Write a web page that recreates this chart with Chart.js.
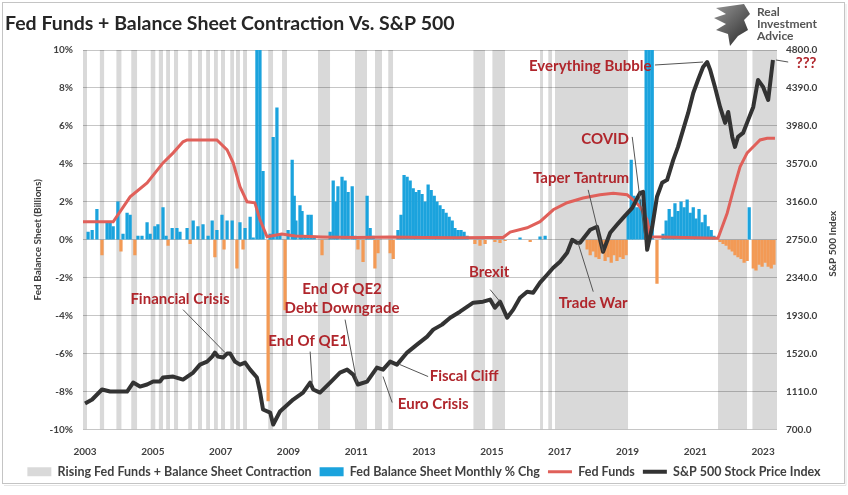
<!DOCTYPE html>
<html>
<head>
<meta charset="utf-8">
<script src="https://cdn.jsdelivr.net/npm/chart.js@4.4.0/dist/chart.umd.min.js"></script>
<style>
  html, body { margin: 0; padding: 0; background: #fff; }
  #wrap { width: 848px; height: 495px; }
</style>
</head>
<body>
<div id="wrap"><canvas id="chart" width="848" height="495"></canvas></div>
<script>
// axis ticks
const yearTicks = [2003, 2005, 2007, 2009, 2011, 2013, 2015, 2017, 2019, 2021, 2023];
const pctTicks = [-10, -8, -6, -4, -2, 0, 2, 4, 6, 8, 10];
const spxTicks = [700, 1110, 1520, 1930, 2340, 2750, 3160, 3570, 3980, 4390, 4800];

// shaded periods: rising fed funds + balance sheet contraction (start / end, decimal years)
const bandStart = [2002.94, 2003.43, 2003.92, 2004.36, 2004.93, 2005.17, 2005.39, 2005.62, 2006.04, 2006.33,
  2006.57, 2006.80, 2007.01, 2007.28, 2007.45, 2007.66, 2008.40, 2008.81, 2009.87, 2010.96, 2011.55, 2011.94,
  2014.45, 2015.01, 2016.42, 2016.66, 2016.86, 2021.67, 2022.68];
const bandEnd = [2003.06, 2003.57, 2004.08, 2004.54, 2005.08, 2005.30, 2005.51, 2005.75, 2006.16, 2006.45,
  2006.69, 2006.92, 2007.13, 2007.40, 2007.57, 2007.78, 2008.55, 2008.96, 2010.23, 2011.32, 2011.76, 2012.09,
  2014.80, 2015.39, 2016.51, 2016.78, 2019.02, 2022.53, 2023.41];

// Fed balance sheet monthly % change
const bsYears = [2003.09, 2003.21, 2003.35, 2003.50, 2003.65, 2003.74, 2003.83, 2003.97, 2004.06, 2004.12,
  2004.24, 2004.33, 2004.47, 2004.56, 2004.68, 2004.83, 2004.92, 2005.06, 2005.15, 2005.30,
  2005.39, 2005.45, 2005.57, 2005.71, 2005.80, 2006.01, 2006.10, 2006.19, 2006.33, 2006.48,
  2006.63, 2006.75, 2006.83, 2006.89, 2007.04, 2007.10, 2007.19, 2007.34, 2007.48, 2007.57,
  2007.66, 2007.72, 2007.87, 2007.96, 2008.07, 2008.16, 2008.25, 2008.40, 2008.46, 2008.55,
  2008.66, 2008.75, 2008.90, 2008.99, 2009.11, 2009.17, 2009.22, 2009.34, 2009.40, 2009.49,
  2009.58, 2009.67, 2009.76, 2009.99, 2010.23, 2010.32, 2010.40, 2010.46, 2010.58, 2010.67,
  2010.76, 2010.88, 2010.96, 2011.05, 2011.20, 2011.32, 2011.41, 2011.50, 2011.55, 2011.64,
  2012.00, 2012.09, 2012.23, 2012.32, 2012.41, 2012.50, 2012.59, 2012.68, 2012.76, 2012.85,
  2012.94, 2013.03, 2013.12, 2013.21, 2013.30, 2013.38, 2013.47, 2013.56, 2013.65, 2013.74,
  2013.83, 2013.91, 2014.00, 2014.09, 2014.18, 2014.27, 2014.50, 2014.65, 2014.80, 2015.09,
  2015.24, 2015.39, 2015.83, 2016.13, 2016.42, 2016.57, 2017.81, 2017.90, 2017.99, 2018.07,
  2018.16, 2018.25, 2018.34, 2018.43, 2018.52, 2018.60, 2018.69, 2018.78, 2018.87, 2018.96,
  2019.02, 2019.11, 2019.19, 2019.28, 2019.37, 2019.46, 2019.55, 2019.64, 2019.73, 2019.87,
  2020.05, 2020.14, 2020.23, 2020.32, 2020.40, 2020.49, 2020.58, 2020.67, 2020.76, 2020.85,
  2020.94, 2021.02, 2021.11, 2021.20, 2021.29, 2021.38, 2021.47, 2021.55, 2021.73, 2021.82,
  2021.91, 2022.00, 2022.09, 2022.17, 2022.26, 2022.35, 2022.44, 2022.53, 2022.59, 2022.71,
  2022.79, 2022.88, 2022.97, 2023.06, 2023.15, 2023.24, 2023.32];
const bsChg = [0.4, 0.5, 1.6, -0.8, 0.9, 0.9, 0.7, 2.0, -0.6, 0.3,
  1.4, 1.3, -0.8, 0.2, 0.2, 0.9, 0.3, 0.7, 0.8, 1.7,
  0.2, -0.3, 0.6, 0.6, 0.4, 0.6, -0.2, 1.0, 0.7, 0.8,
  0.2, 1.0, -0.9, 0.5, 1.3, -0.5, 1.0, 1.0, -1.5, 0.9,
  -0.5, 0.6, 1.2, 0.1, 12, 12, 3.6, -8.5, 0.3, 5.4,
  6.95, 0.3, -3.7, 0.5, 4.2, 2.3, 1.0, 1.8, 1.5, 0.2,
  1.3, 1.3, 0.2, -0.8, 0.4, 3.1, 2.0, 2.8, 3.3, 3.1,
  2.5, 2.8, 0.2, -0.5, -1.15, 2.3, 0.6, 0.2, -1.5, -0.7,
  -0.7, -1.0, 0.5, 1.3, 3.4, 3.3, 3.1, 2.7, 2.5, 2.6,
  2.4, 2.0, 2.9, 2.6, 2.3, 2.0, 1.8, 1.6, 1.4, 1.2,
  1.0, 0.6, 0.5, 0.5, 0.4, 0.2, -0.2, -0.3, -0.2, -0.1,
  -0.15, -0.05, 0.1, -0.1, 0.15, 0.2, -0.5, -0.8, -0.6, -0.9,
  -1.0, -0.7, -1.1, -0.9, -1.2, -0.8, -1.1, -0.9, -1.0, -0.8,
  1.4, 4.2, 2.3, 1.7, 2.1, 1.5, 12, 12, 12, -2.3,
  0.3, 1.0, 1.6, 1.2, 1.9, 1.5, 2.0, 1.7, 2.1, 1.4,
  1.7, 1.1, 1.6, 0.9, 1.3, 0.7, 0.5, 0.2, -0.1, -0.2,
  -0.3, -0.5, -0.6, -0.8, -0.9, -1.0, -1.2, -1.1, 1.7, -1.5,
  -1.6, -1.3, -1.4, -1.2, -1.4, -1.5, -1.3];

// Fed funds rate, %
const ffYears = [2002.94, 2003.83, 2004.33, 2004.83, 2005.30, 2005.60, 2005.89, 2006.01, 2006.89, 2007.19,
  2007.37, 2007.57, 2007.78, 2008.01, 2008.16, 2008.37, 2008.80, 2009.20, 2010.00, 2011.00,
  2012.00, 2013.00, 2014.00, 2015.00, 2015.33, 2015.54, 2016.04, 2016.42, 2016.81, 2017.22,
  2017.69, 2018.19, 2018.58, 2018.99, 2019.17, 2019.37, 2019.58, 2019.67, 2021.67, 2021.94,
  2022.12, 2022.32, 2022.53, 2022.71, 2022.91, 2023.12, 2023.35];
const ffRate = [0.95, 0.95, 2.26, 3.0, 4.05, 4.58, 5.16, 5.26, 5.26, 4.74,
  4.05, 2.8, 2.0, 1.95, 1.05, 0.16, 0.3, 0.2, 0.15, 0.12,
  0.15, 0.12, 0.1, 0.12, 0.12, 0.4, 0.63, 0.95, 1.58, 1.95,
  2.2, 2.37, 2.45, 2.37, 2.1, 1.74, 1.05, 0.16, 0.08, 1.4,
  2.6, 3.84, 4.58, 4.9, 5.26, 5.35, 5.35];

// S&P 500 index level
const spxYears = [2003.00, 2003.21, 2003.50, 2003.74, 2003.94, 2004.24, 2004.42, 2004.62, 2004.83, 2005.01,
  2005.21, 2005.30, 2005.60, 2005.89, 2006.19, 2006.39, 2006.60, 2006.75, 2006.83, 2006.92,
  2007.07, 2007.19, 2007.28, 2007.42, 2007.57, 2007.72, 2007.87, 2008.07, 2008.16, 2008.25,
  2008.46, 2008.55, 2008.75, 2009.14, 2009.43, 2009.64, 2009.73, 2009.93, 2010.23, 2010.52,
  2010.73, 2010.91, 2011.05, 2011.32, 2011.61, 2011.79, 2012.00, 2012.20, 2012.50, 2012.79,
  2013.09, 2013.27, 2013.53, 2013.77, 2014.06, 2014.45, 2014.74, 2014.95, 2015.09, 2015.24,
  2015.45, 2015.63, 2015.83, 2016.04, 2016.22, 2016.42, 2016.63, 2016.81, 2017.01, 2017.22,
  2017.37, 2017.51, 2017.60, 2017.90, 2018.10, 2018.28, 2018.49, 2018.69, 2018.87, 2019.14,
  2019.37, 2019.46, 2019.58, 2019.73, 2019.87, 2020.02, 2020.17, 2020.35, 2020.49, 2020.64,
  2020.79, 2020.94, 2021.08, 2021.23, 2021.35, 2021.44, 2021.58, 2021.73, 2021.88, 2021.97,
  2022.09, 2022.17, 2022.26, 2022.41, 2022.56, 2022.71, 2022.85, 2023.00, 2023.15, 2023.29];
const spxLevel = [981, 1024, 1132, 1110, 1110, 1110, 1207, 1164, 1186, 1218,
  1218, 1261, 1272, 1239, 1315, 1401, 1434, 1488, 1531, 1488,
  1477, 1520, 1520, 1434, 1401, 1423, 1347, 1261, 1110, 916,
  883, 754, 894, 1024, 1099, 1207, 1132, 1099, 1207, 1315,
  1347, 1293, 1186, 1218, 1369, 1347, 1434, 1401, 1531, 1617,
  1703, 1779, 1833, 1908, 1973, 2070, 2081, 2103, 2016, 2081,
  1908, 1995, 2124, 2189, 2178, 2286, 2372, 2448, 2513, 2610,
  2750, 2718, 2718, 2858, 2890, 2620, 2825, 2912, 2987, 3095,
  3257, 3268, 2642, 2890, 3214, 3365, 3397, 3613, 3753, 3937,
  4120, 4336, 4476, 4617, 4670, 4584, 4401, 4185, 4012, 4131,
  3861, 3753, 3861, 3904, 4045, 4185, 4476, 4401, 4260, 4692];

// callouts: label centre, leader line start and end, in (year, S&P level)
const notes = [
  { text: 'Financial Crisis', at: [2005.80, 2103], from: [2005.89, 1995], to: [2007.13, 1531] },
  { text: 'End Of QE1', at: [2009.58, 1650], from: [2009.64, 1542], to: [2009.70, 1207] },
  { text: 'End Of QE2', at: [2010.58, 2211] },
  { text: 'Debt Downgrade', at: [2010.58, 2016], from: [2010.67, 1887], to: [2011.02, 1207] },
  { text: 'Fiscal Cliff', at: [2014.18, 1272], from: [2013.12, 1272], to: [2012.29, 1401] },
  { text: 'Euro Crisis', at: [2013.27, 970], from: [2012.06, 991], to: [2011.79, 1272] },
  { text: 'Brexit', at: [2014.92, 2405], from: [2014.95, 2211], to: [2015.24, 2081] },
  { text: 'Trade War', at: [2017.99, 2070], from: [2017.99, 2189], to: [2017.54, 2718] },
  { text: 'Taper Tantrum', at: [2017.63, 3419], from: [2017.84, 3289], to: [2018.28, 2620] },
  { text: 'COVID', at: [2018.34, 3840], from: [2019.14, 3861], to: [2019.52, 2750] },
  { text: 'Everything Bubble', at: [2017.90, 4628], from: [2019.81, 4638], to: [2021.23, 4670] },
  { text: '???', at: [2024.27, 4660], from: [2023.38, 4692], to: [2023.74, 4670] }
];

const FONT = 'Lato, "Noto Sans", sans-serif';
const TEXT = '#404040';

const bandPoints = bandStart.flatMap((s, i) => [
  { x: s, y: 10 }, { x: bandEnd[i], y: 10 }, { x: bandEnd[i], y: null }
]);

const frame = {
  id: 'frame',
  beforeDraw(chart) {
    const { ctx, width, height } = chart;
    ctx.save();
    ctx.fillStyle = '#fff';
    ctx.fillRect(0, 0, width, height);
    ctx.restore();
  },
  afterDraw(chart) {
    const { ctx, chartArea } = chart;
    ctx.save();
    // title
    ctx.fillStyle = '#262626';
    ctx.font = 'bold 19.5px ' + FONT;
    ctx.textAlign = 'left';
    ctx.textBaseline = 'middle';
    ctx.fillText('Fed Funds + Balance Sheet Contraction Vs. S&P 500', 5, 24);
    // logo
    ctx.fillStyle = '#555';
    ctx.font = 'bold 12px ' + FONT;
    ctx.fillText('Real', 757, 12);
    ctx.fillText('Investment', 757, 24);
    ctx.fillText('Advice', 757, 36);
    const g = ctx.createLinearGradient(712, 4, 750, 44);
    g.addColorStop(0, '#9a9a9a');
    g.addColorStop(1, '#2b2b2b');
    ctx.fillStyle = g;
    ctx.beginPath();
    ctx.moveTo(716, 8); ctx.lineTo(744, 4); ctx.lineTo(750, 14); ctx.lineTo(744, 20);
    ctx.lineTo(748, 30); ctx.lineTo(738, 36); ctx.lineTo(730, 46); ctx.lineTo(728, 34);
    ctx.lineTo(716, 30); ctx.lineTo(726, 24); ctx.lineTo(714, 18); ctx.lineTo(726, 14);
    ctx.closePath();
    ctx.fill();
    // axis titles
    ctx.fillStyle = TEXT;
    ctx.font = 'bold 10px ' + FONT;
    ctx.textAlign = 'center';
    ctx.translate(38, (chartArea.top + chartArea.bottom) / 2);
    ctx.rotate(-Math.PI / 2);
    ctx.fillText('Fed Balance Sheet (Billions)', 0, 0);
    ctx.setTransform(1, 0, 0, 1, 0, 0);
    ctx.translate(833, (chartArea.top + chartArea.bottom) / 2 + 4);
    ctx.rotate(-Math.PI / 2);
    ctx.fillText('S&P 500 Index', 0, 0);
    ctx.setTransform(1, 0, 0, 1, 0, 0);
    // border
    ctx.strokeStyle = '#c4c4c4';
    ctx.lineWidth = 1;
    ctx.strokeRect(2.5, 2.5, 842, 481);
    ctx.strokeStyle = '#e6e6e6';
    ctx.beginPath();
    ctx.moveTo(4, 485.5); ctx.lineTo(846, 485.5); ctx.lineTo(846, 4);
    ctx.stroke();
    ctx.restore();
  }
};

const callouts = {
  id: 'callouts',
  afterDatasetsDraw(chart) {
    const { ctx, scales: { x, y1 } } = chart;
    ctx.save();
    ctx.strokeStyle = '#555';
    ctx.lineWidth = 1;
    notes.forEach(n => {
      if (!n.from) return;
      ctx.beginPath();
      ctx.moveTo(x.getPixelForValue(n.from[0]), y1.getPixelForValue(n.from[1]));
      ctx.lineTo(x.getPixelForValue(n.to[0]), y1.getPixelForValue(n.to[1]));
      ctx.stroke();
    });
    ctx.font = 'bold 15px ' + FONT;
    ctx.fillStyle = '#b0262c';
    ctx.textAlign = 'center';
    ctx.textBaseline = 'middle';
    notes.forEach(n => ctx.fillText(n.text, x.getPixelForValue(n.at[0]), y1.getPixelForValue(n.at[1])));
    ctx.restore();
  }
};

const tickFont = { family: FONT, size: 10, weight: 'bold' };

new Chart(document.getElementById('chart'), {
  type: 'bar',
  data: {
    datasets: [
      {
        type: 'line',
        label: 'Rising Fed Funds + Balance Sheet Contraction',
        data: bandPoints,
        yAxisID: 'y',
        borderWidth: 0,
        borderColor: 'rgba(0,0,0,0)',
        backgroundColor: 'rgba(0,0,0,0.15)',
        fill: 'start',
        pointRadius: 0,
        spanGaps: false,
        pointStyle: 'rect',
        order: 4
      },
      {
        type: 'bar',
        label: 'Fed Balance Sheet Monthly % Chg',
        data: bsYears.map((yr, i) => ({ x: yr, y: bsChg[i] })),
        yAxisID: 'y',
        backgroundColor: c => (c.raw && c.raw.y < 0 ? '#f39a55' : '#1ba3dd'),
        borderColor: 'rgba(0,0,0,0)',
        borderWidth: 0,
        barThickness: 2.6,
        pointStyle: 'rect',
        order: 3
      },
      {
        type: 'line',
        label: 'Fed Funds',
        data: ffYears.map((yr, i) => ({ x: yr, y: ffRate[i] })),
        yAxisID: 'y',
        borderColor: '#e0605a',
        backgroundColor: '#e0605a',
        borderWidth: 3,
        pointRadius: 0,
        tension: 0,
        fill: false,
        pointStyle: 'line',
        order: 2
      },
      {
        type: 'line',
        label: 'S&P 500 Stock Price Index',
        data: spxYears.map((yr, i) => ({ x: yr, y: spxLevel[i] })),
        yAxisID: 'y1',
        borderColor: '#333333',
        backgroundColor: '#333333',
        borderWidth: 4,
        pointRadius: 0,
        tension: 0,
        fill: false,
        borderJoinStyle: 'round',
        pointStyle: 'line',
        order: 1
      }
    ]
  },
  options: {
    responsive: false,
    animation: false,
    layout: { padding: { left: 0, right: 0, top: 50, bottom: 7 } },
    plugins: {
      tooltip: { enabled: false },
      legend: {
        position: 'bottom',
        labels: {
          usePointStyle: true,
          pointStyleWidth: 24,
          boxHeight: 9,
          padding: 8,
          color: TEXT,
          font: { family: FONT, size: 12.5, weight: 'bold' },
          sort: (a, b) => a.datasetIndex - b.datasetIndex
        }
      }
    },
    scales: {
      x: {
        type: 'linear',
        min: 2002.94,
        max: 2023.41,
        offset: false,
        grid: { display: false, drawTicks: false, offset: false },
        border: { display: false },
        afterBuildTicks: s => { s.ticks = yearTicks.map(v => ({ value: v })); },
        afterFit: s => { s.height = 28; },
        ticks: { autoSkip: false, maxRotation: 0, padding: 16, color: TEXT, font: tickFont, callback: v => String(v) }
      },
      y: {
        position: 'left',
        min: -10,
        max: 10,
        grid: { color: '#c6c6c6', drawTicks: false },
        border: { display: false },
        afterBuildTicks: s => { s.ticks = pctTicks.map(v => ({ value: v })); },
        afterFit: s => { s.width = 83; },
        ticks: { padding: 10, color: TEXT, font: tickFont, callback: v => v + '%' }
      },
      y1: {
        position: 'right',
        min: 700,
        max: 4800,
        grid: { drawOnChartArea: false, drawTicks: false },
        border: { display: false },
        afterBuildTicks: s => { s.ticks = spxTicks.map(v => ({ value: v })); },
        afterFit: s => { s.width = 71; },
        ticks: { padding: 9, color: TEXT, font: tickFont, callback: v => v.toFixed(1) }
      }
    }
  },
  plugins: [frame, callouts]
});
</script>
</body>
</html>
